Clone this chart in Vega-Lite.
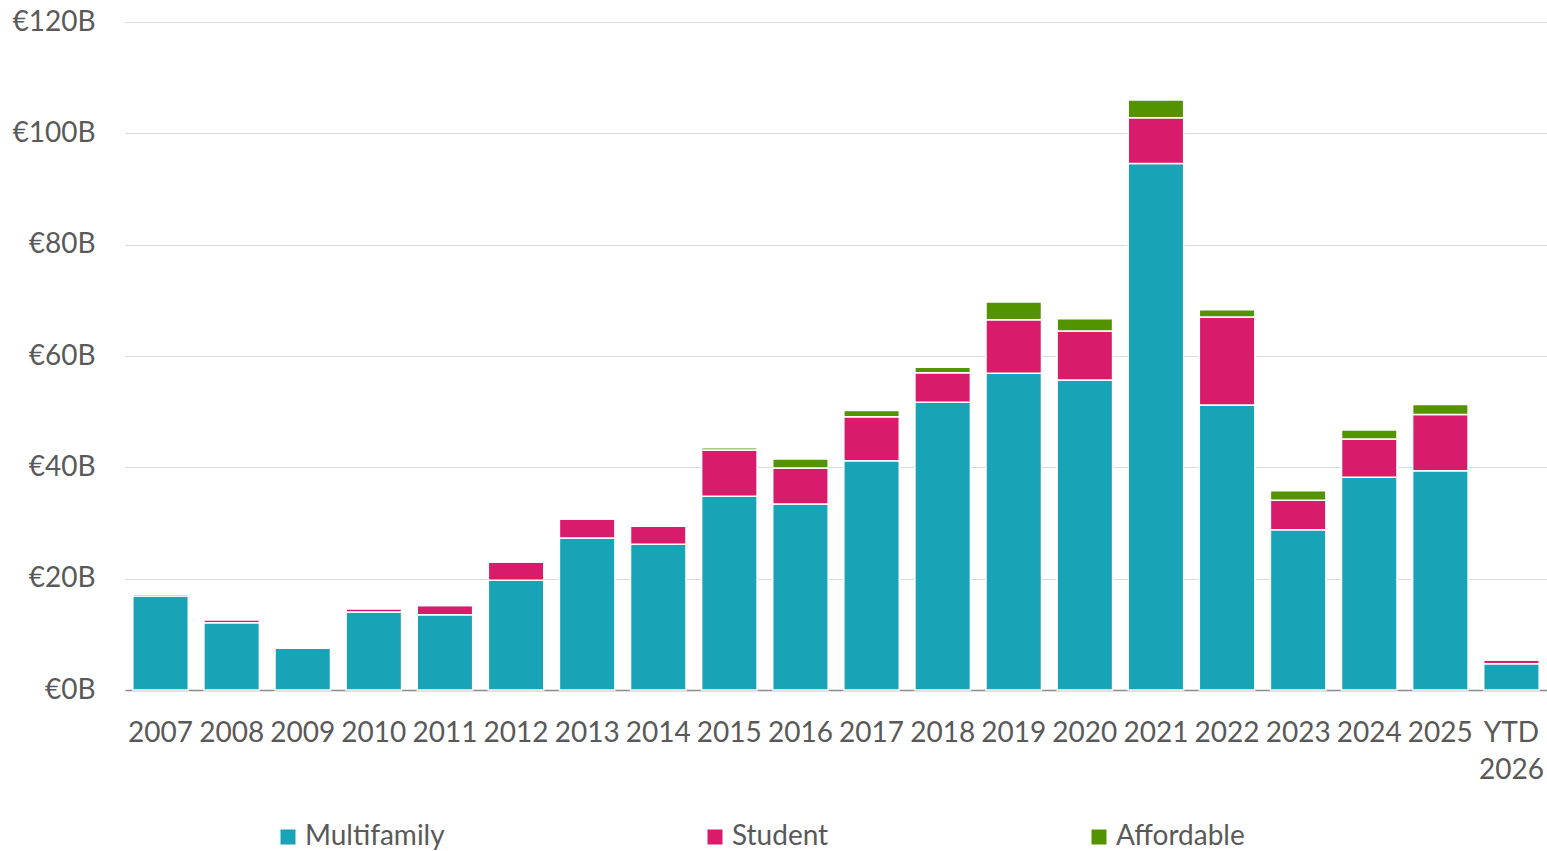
{
  "$schema": "https://vega.github.io/schema/vega-lite/v6.json",
  "width": 1422,
  "height": 668,
  "autosize": {"type": "none"},
  "padding": {"left": 125, "top": 22, "right": 0, "bottom": 161},
  "background": "white",
  "config": {
    "font": "Lato",
    "view": {"stroke": null}
  },
  "data": {
    "values": [
      {"year": "2007", "type": "Multifamily", "value": 16.9},
      {"year": "2007", "type": "Student", "value": 0.3},
      {"year": "2007", "type": "Affordable", "value": 0},
      {"year": "2008", "type": "Multifamily", "value": 12.1},
      {"year": "2008", "type": "Student", "value": 0.5},
      {"year": "2008", "type": "Affordable", "value": 0},
      {"year": "2009", "type": "Multifamily", "value": 7.5},
      {"year": "2009", "type": "Student", "value": 0},
      {"year": "2009", "type": "Affordable", "value": 0},
      {"year": "2010", "type": "Multifamily", "value": 14.0},
      {"year": "2010", "type": "Student", "value": 0.6},
      {"year": "2010", "type": "Affordable", "value": 0},
      {"year": "2011", "type": "Multifamily", "value": 13.5},
      {"year": "2011", "type": "Student", "value": 1.7},
      {"year": "2011", "type": "Affordable", "value": 0},
      {"year": "2012", "type": "Multifamily", "value": 19.7},
      {"year": "2012", "type": "Student", "value": 3.3},
      {"year": "2012", "type": "Affordable", "value": 0},
      {"year": "2013", "type": "Multifamily", "value": 27.3},
      {"year": "2013", "type": "Student", "value": 3.4},
      {"year": "2013", "type": "Affordable", "value": 0},
      {"year": "2014", "type": "Multifamily", "value": 26.2},
      {"year": "2014", "type": "Student", "value": 3.2},
      {"year": "2014", "type": "Affordable", "value": 0},
      {"year": "2015", "type": "Multifamily", "value": 34.8},
      {"year": "2015", "type": "Student", "value": 8.3},
      {"year": "2015", "type": "Affordable", "value": 0.4},
      {"year": "2016", "type": "Multifamily", "value": 33.4},
      {"year": "2016", "type": "Student", "value": 6.5},
      {"year": "2016", "type": "Affordable", "value": 1.6},
      {"year": "2017", "type": "Multifamily", "value": 41.2},
      {"year": "2017", "type": "Student", "value": 7.9},
      {"year": "2017", "type": "Affordable", "value": 1.1},
      {"year": "2018", "type": "Multifamily", "value": 51.7},
      {"year": "2018", "type": "Student", "value": 5.3},
      {"year": "2018", "type": "Affordable", "value": 1.0},
      {"year": "2019", "type": "Multifamily", "value": 56.9},
      {"year": "2019", "type": "Student", "value": 9.6},
      {"year": "2019", "type": "Affordable", "value": 3.2},
      {"year": "2020", "type": "Multifamily", "value": 55.7},
      {"year": "2020", "type": "Student", "value": 8.8},
      {"year": "2020", "type": "Affordable", "value": 2.2},
      {"year": "2021", "type": "Multifamily", "value": 94.6},
      {"year": "2021", "type": "Student", "value": 8.2},
      {"year": "2021", "type": "Affordable", "value": 3.2},
      {"year": "2022", "type": "Multifamily", "value": 51.2},
      {"year": "2022", "type": "Student", "value": 15.8},
      {"year": "2022", "type": "Affordable", "value": 1.3},
      {"year": "2023", "type": "Multifamily", "value": 28.8},
      {"year": "2023", "type": "Student", "value": 5.3},
      {"year": "2023", "type": "Affordable", "value": 1.7},
      {"year": "2024", "type": "Multifamily", "value": 38.2},
      {"year": "2024", "type": "Student", "value": 6.9},
      {"year": "2024", "type": "Affordable", "value": 1.6},
      {"year": "2025", "type": "Multifamily", "value": 39.4},
      {"year": "2025", "type": "Student", "value": 10.1},
      {"year": "2025", "type": "Affordable", "value": 1.8},
      {"year": "YTD 2026", "type": "Multifamily", "value": 4.7},
      {"year": "YTD 2026", "type": "Student", "value": 0.7},
      {"year": "YTD 2026", "type": "Affordable", "value": 0}
    ]
  },
  "transform": [
    {"calculate": "indexof(['Multifamily', 'Student', 'Affordable'], datum.type)", "as": "stackOrder"}
  ],
  "mark": {"type": "bar", "stroke": "white", "strokeWidth": 1.5},
  "encoding": {
    "x": {
      "field": "year",
      "type": "nominal",
      "sort": null,
      "scale": {"paddingInner": 0.22, "paddingOuter": 0.11},
      "axis": {
        "title": null,
        "labelAngle": 0,
        "labelFontSize": 28,
        "labelColor": "#595959",
        "labelPadding": 43,
        "labelBaseline": "middle",
        "labelLineHeight": 37,
        "labelOverlap": false,
        "labelExpr": "datum.value == 'YTD 2026' ? ['YTD', '2026'] : datum.label",
        "ticks": false,
        "domainColor": "#8c8c8c",
        "domainWidth": 1.5,
        "grid": false
      }
    },
    "y": {
      "field": "value",
      "type": "quantitative",
      "stack": "zero",
      "scale": {"domain": [0, 120]},
      "axis": {
        "title": null,
        "values": [0, 20, 40, 60, 80, 100, 120],
        "labelExpr": "'€' + datum.value + 'B'",
        "labelFontSize": 28,
        "labelColor": "#595959",
        "labelPadding": 30,
        "ticks": false,
        "domain": false,
        "gridColor": "#d9d9d9",
        "gridWidth": 1.2
      }
    },
    "color": {
      "field": "type",
      "type": "nominal",
      "sort": ["Multifamily", "Student", "Affordable"],
      "scale": {
        "domain": ["Multifamily", "Student", "Affordable"],
        "range": ["#18A3B6", "#D81B6A", "#549300"]
      },
      "legend": {
        "title": null,
        "orient": "none",
        "legendX": 149,
        "legendY": 801,
        "direction": "horizontal",
        "columns": 3,
        "columnPadding": 256,
        "symbolType": "square",
        "symbolSize": 225,
        "symbolStrokeWidth": 0,
        "labelFontSize": 28,
        "labelColor": "#595959",
        "labelOffset": 3
      }
    },
    "order": {"field": "stackOrder", "type": "quantitative", "sort": "ascending"}
  }
}
